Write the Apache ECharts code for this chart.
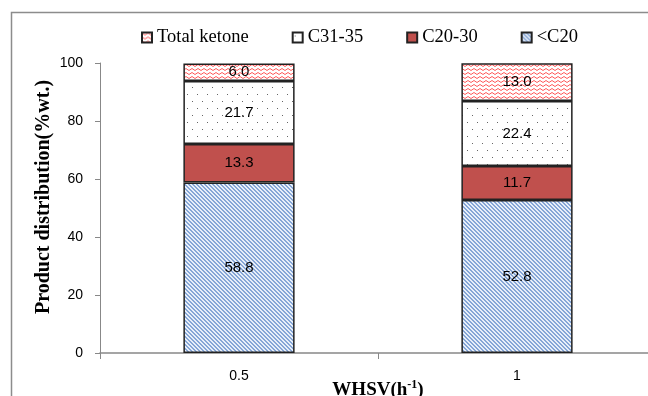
<!DOCTYPE html>
<html><head><meta charset="utf-8">
<script src="https://cdn.jsdelivr.net/npm/echarts@6/dist/echarts.min.js"></script>
<style>html,body{margin:0;padding:0;background:#fff}#c{width:648px;height:396px}</style>
</head><body><div id="c"></div>
<script>
const categories = ['0.5', '1'];
const seriesNames = ['<C20', 'C20-30', 'C31-35', 'Total ketone'];
const valuesC20 = [58.8, 52.8];
const valuesC20to30 = [13.3, 11.7];
const valuesC31to35 = [21.7, 22.4];
const valuesKetone = [6.0, 13.0];
const yMin = 0, yMax = 100, yInterval = 20;

function makeTile(w, h, draw) {
  const c = document.createElement('canvas');
  c.width = w; c.height = h;
  const g = c.getContext('2d');
  draw(g, w, h);
  return { image: c, repeat: 'repeat' };
}
const patBlue = makeTile(4, 4, (g, w, h) => {
  g.fillStyle = '#e8eff9'; g.fillRect(0, 0, w, h);
  g.fillStyle = '#86a6d6';
  for (let i = 0; i < 4; i++) { g.fillRect(i, i, 1, 1); g.fillRect((i + 1) % 4, i, 1, 1); }
});
const patDots = makeTile(10, 14, (g, w, h) => {
  g.fillStyle = '#ffffff'; g.fillRect(0, 0, w, h);
  g.fillStyle = '#666';
  g.fillRect(2, 3, 1, 1); g.fillRect(7, 10, 1, 1);
});
const patZig = makeTile(6, 4, (g, w, h) => {
  g.fillStyle = '#ffffff'; g.fillRect(0, 0, w, h);
  g.strokeStyle = '#ff5a5a'; g.lineWidth = 1;
  g.beginPath(); g.moveTo(0, 0.5); g.lineTo(3, 2.5); g.lineTo(6, 0.5); g.stroke();
  g.beginPath(); g.moveTo(0, 4.5); g.lineTo(3, 6.5); g.lineTo(6, 4.5); g.stroke();
});

const fills = [patBlue, '#c0504d', patDots, patZig];
const data = [valuesC20, valuesC20to30, valuesC31to35, valuesKetone];

const chart = echarts.init(document.getElementById('c'), null, { renderer: 'canvas' });
chart.setOption({
  animation: false,
  backgroundColor: '#fff',
  graphic: [{
    type: 'polyline', silent: true,
    shape: { points: [[11.5, 396], [11.5, 12.5], [648, 12.5]] },
    style: { stroke: '#8c8c8c', lineWidth: 1.5, fill: null }
  }],
  legend: {
    data: ['Total ketone', 'C31-35', 'C20-30', '<C20'],
    left: 141, top: 28, padding: 0,
    itemWidth: 10, itemHeight: 10, itemGap: 43,
    icon: 'rect',
    textStyle: { fontFamily: 'Liberation Serif', fontSize: 18.5, color: '#000' }
  },
  grid: { left: 100, right: -8, top: 63, bottom: 43, containLabel: false, outerBoundsMode: 'none' },
  xAxis: {
    type: 'category', data: categories,
    axisLine: { lineStyle: { color: '#888', width: 1.5 } },
    axisTick: { show: true, length: 6, lineStyle: { color: '#888' } },
    axisLabel: { margin: 16, fontFamily: 'Liberation Sans', fontSize: 14, color: '#000' },
    name: '{a|WHSV(h}{s|-1}{a|)}',
    nameLocation: 'middle', nameGap: 26, nameMoveOverlap: false,
    nameTextStyle: {
      verticalAlign: 'top',
      rich: {
        a: { fontFamily: 'Liberation Serif', fontWeight: 'bold', fontSize: 19, color: '#000' },
        s: { fontFamily: 'Liberation Serif', fontWeight: 'bold', fontSize: 12, color: '#000', verticalAlign: 'top', padding: [0, 0, 10, 0] }
      }
    }
  },
  yAxis: {
    type: 'value', min: yMin, max: yMax, interval: yInterval,
    splitLine: { show: false },
    axisLine: { show: true, lineStyle: { color: '#888', width: 1 } },
    axisTick: { show: true, length: 5, lineStyle: { color: '#888' } },
    axisLabel: { margin: 17, fontFamily: 'Liberation Sans', fontSize: 14, color: '#000' },
    name: 'Product distribution(%wt.)',
    nameLocation: 'middle', nameRotate: 90, nameGap: 46, nameMoveOverlap: false,
    nameTextStyle: { fontFamily: 'Liberation Serif', fontWeight: 'bold', fontSize: 20, color: '#000', padding: [0, 0, 0, 22] }
  },
  series: seriesNames.map((n, i) => ({
    name: n, type: 'bar', stack: 'total', barWidth: '40%',
    data: data[i],
    itemStyle: { color: fills[i], borderColor: '#222', borderWidth: 1.5 },
    label: {
      show: true, position: 'inside', color: '#000',
      fontFamily: 'Liberation Sans', fontSize: 15,
      formatter: p => p.value.toFixed(1)
    }
  }))
});
</script></body></html>
